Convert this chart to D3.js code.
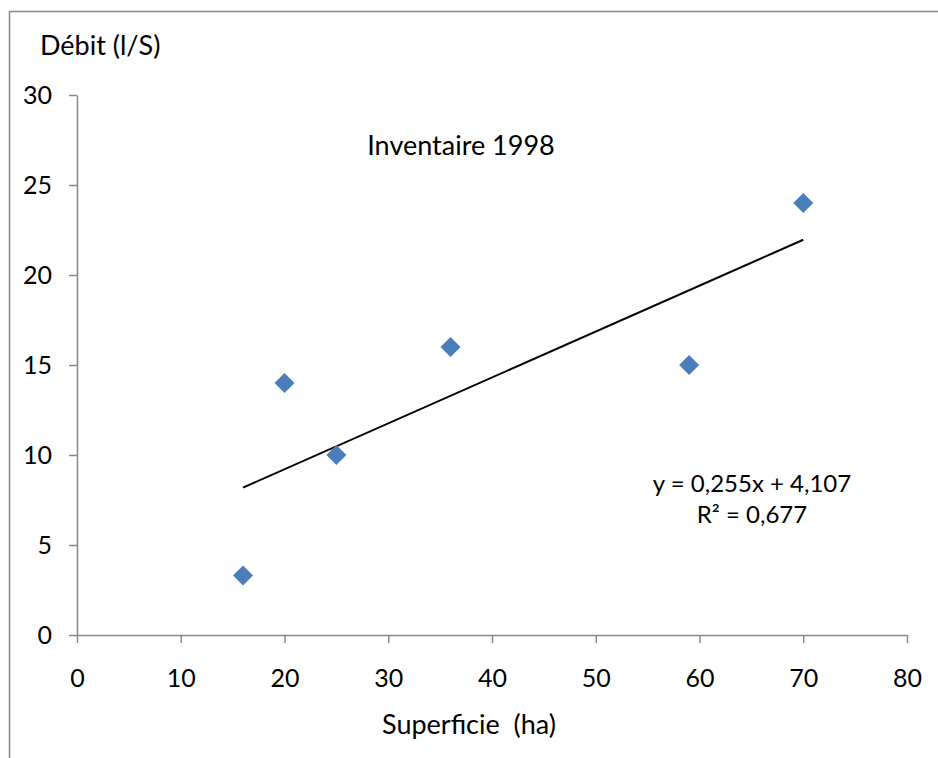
<!DOCTYPE html>
<html><head><meta charset="utf-8">
<script src="https://cdn.jsdelivr.net/npm/d3@7"></script>
<style>body{margin:0;background:#fff}svg{display:block;font-family:Lato,"Open Sans",sans-serif}</style>
</head><body><svg id="c" width="938" height="758"></svg>
<script>
const superficie = [16, 20, 25, 36, 59, 70];
const debit = [3.3, 14, 10, 16, 15, 24];
const xTicks = [0, 10, 20, 30, 40, 50, 60, 70, 80];
const yTicks = [0, 5, 10, 15, 20, 25, 30];
const trendSlope = 0.255, trendIntercept = 4.107;
const equationLines = ["y = 0,255x + 4,107", "R² = 0,677"];
const title = "Inventaire 1998";
const xTitle = "Superficie  (ha)";
const yTitle = "Débit (l/S)";

const svg = d3.select("#c");
svg.append("rect").attr("x",9.5).attr("y",11.5).attr("width",1000).attr("height",1000)
  .attr("fill","none").attr("stroke","#888").attr("stroke-width",1.5);

const x = d3.scaleLinear().domain([0,80]).range([77,907]);
const y = d3.scaleLinear().domain([0,30]).range([635,95]);
const fs = 25, fsText = 27, fsEq = 24;

const gx = svg.append("g").attr("transform","translate(0,635)")
  .call(d3.axisBottom(x).tickValues(xTicks).tickSize(8).tickSizeOuter(0));
const gy = svg.append("g").attr("transform","translate(77,0)")
  .call(d3.axisLeft(y).tickValues(yTicks).tickSize(8).tickSizeOuter(0).tickPadding(17));
[gx,gy].forEach(g=>{
  g.selectAll("path,line").attr("stroke","#898989").attr("stroke-width",1.5);
  g.selectAll("text").attr("font-size",fs).attr("fill","#000").attr("font-family","Lato, 'Open Sans', sans-serif");
});
gx.selectAll("text").attr("y",52).attr("dy",0);

svg.append("line")
  .attr("x1",x(d3.min(superficie))).attr("y1",y(trendSlope*d3.min(superficie)+trendIntercept))
  .attr("x2",x(d3.max(superficie))).attr("y2",y(trendSlope*d3.max(superficie)+trendIntercept))
  .attr("stroke","#000").attr("stroke-width",2);

const sym = d3.symbol().type(d3.symbolSquare).size(200);
svg.selectAll(".pt").data(superficie.map((s,i)=>[s,debit[i]])).join("path")
  .attr("class","pt").attr("d",sym)
  .attr("transform",d=>`translate(${x(d[0])},${y(d[1])}) rotate(45)`)
  .attr("fill","#4a7ebb");

svg.append("text").attr("x",40).attr("y",55).attr("font-size",fsText).text(yTitle);
svg.append("text").attr("x",461).attr("y",155).attr("text-anchor","middle").attr("font-size",fsText).text(title);
svg.append("text").attr("x",469).attr("y",734).attr("text-anchor","middle").attr("font-size",fsText).style("white-space","pre").text(xTitle);
equationLines.forEach((t,i)=>svg.append("text").attr("x",752).attr("y",492+i*31)
  .attr("text-anchor","middle").attr("font-size",fsEq).text(t));
</script></body></html>
